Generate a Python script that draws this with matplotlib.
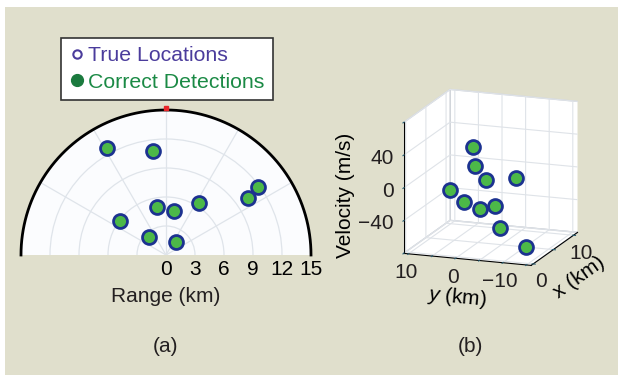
import numpy as np
import matplotlib
matplotlib.use('Agg')
import matplotlib.pyplot as plt
from matplotlib.lines import Line2D
from matplotlib.patches import Rectangle

plt.rcParams['font.family'] = ['Liberation Sans', 'DejaVu Sans']
plt.rcParams['font.size'] = 15
plt.rcParams['mathtext.fontset'] = 'custom'
plt.rcParams['mathtext.it'] = 'Liberation Sans:italic'
plt.rcParams['mathtext.rm'] = 'Liberation Sans'

# (a) detections: azimuth (deg) and range (km)
azimute = [119, 97, 36.5, 35, 57.5, 100.5, 80, 143.5, 133.5, 52]
alcance = [12.6, 10.8, 11.8, 10.3, 6.4, 5.0, 4.6, 5.9, 2.55, 1.7]
range_ticks = [0, 3, 6, 9, 12, 15]

# (b) targets: x (km), y (km), velocity (m/s)
x_km = [11.0, 4.9, 1.3, 5.9, 3.5, 1.9, 4.5, 10.7, 5.4, 4.0]
y_km = [6.1, 0.5, -5.0, -7.4, 4.7, 0.3, -0.8, 1.2, -4.3, -11.0]
vel = [12, 13, 12, 0, -13, -20, -37, -56, -61, -76]
vel_ticks = [-80, -40, 0, 40, 80]
vel_labels = ['', '\u221240', '0', '40', '']
y_ticks = [-15, -10, -5, 0, 5, 10]
y_labels = ['', '\u221210', '', '0', '', '10']
x_ticks = [0, 5, 10]
x_labels = ['0', '', '10']

fundo = '#e0dfcc'
verde = '#4cb848'
borda = '#1c3290'
texto = '#231f20'
eixo_cor = '#2b5f73'

fig = plt.figure(figsize=(6.18, 3.75), dpi=100, facecolor='white')
fig.patches.append(Rectangle((5/618, 0), 1, 368/375, transform=fig.transFigure,
                             facecolor=fundo, edgecolor='none', zorder=-1))

#Grafico a (polar):
ax = fig.add_axes([21/618, 1-327.5/375, 290/618, 290/375], projection='polar')
ax.set_thetamin(0)
ax.set_thetamax(180)
ax.set_rlim(0, 15)
ax.set_facecolor('#fbfcfe')
ax.patch.set_edgecolor('none')
ax.patch.set_linewidth(0)
ax.set_thetagrids(range(30, 151, 30), labels=[])
ax.set_rticks(range_ticks)
ax.set_yticklabels([str(t) for t in range_ticks], color=texto)
ax.tick_params(axis='both', length=0)
ax.grid(color='#dfe4ea', linewidth=0.9)
for s in ['polar', 'start', 'end', 'inner']:
    ax.spines[s].set_color('none')
    ax.spines[s].set_linewidth(0)
# outer rim drawn as a line so only the arc shows
arco = np.linspace(0, np.pi, 181)
ax.plot(arco, np.full_like(arco, 15), color='black', linewidth=2, clip_on=False)
ax.plot(np.radians(azimute), alcance, 'o', markersize=10, markerfacecolor=verde,
        markeredgecolor=borda, markeredgewidth=2, linestyle='none')
ax.plot(np.radians(90), 15.25, 's', color='#e8262a', markersize=2.5, clip_on=False)
fig.text(166/618, 1-297/375, 'Range (km)', ha='center', va='center', color=texto)
fig.text(166/618, 1-347/375, '(a)', ha='center', va='center', color=texto)

handles = [Line2D([], [], marker='o', linestyle='none', markersize=6,
                  markerfacecolor='white', markeredgecolor='#4b3c9c', markeredgewidth=1.5),
           Line2D([], [], marker='o', linestyle='none', markersize=8.5,
                  markerfacecolor='#1b7a3e', markeredgecolor='#1b7a3e')]
leg = fig.legend(handles, ['True Locations', 'Correct Detections'], loc='upper left',
                 bbox_to_anchor=(61/618, 1-38/375), frameon=True, fancybox=False,
                 edgecolor='#333333', framealpha=1, borderpad=0.38, labelspacing=0.35,
                 handlelength=0.7, handletextpad=0.2, borderaxespad=0, fontsize=15.3)
leg.get_frame().set_linewidth(1.2)
leg.get_texts()[0].set_color('#4b3c9c')
leg.get_texts()[1].set_color('#1b8a45')

#Grafico b (3D):
ax3 = fig.add_axes([0.6044, 0.2147, 0.369, 0.608], projection='3d', proj_type='ortho')
ax3.set_facecolor('none')
ax3.view_init(elev=15, azim=-160)
ax3.set_box_aspect((1, 1, 1))
ax3.scatter(x_km, y_km, vel, s=100, c=verde, edgecolors=borda, linewidths=2,
            depthshade=False, alpha=1)
ax3.set_xlim(-0.5, 11)
ax3.set_ylim(-16, 11)
ax3.set_zlim(-80, 80)
ax3.set_xticks(x_ticks)
ax3.set_xticklabels(x_labels)
ax3.set_yticks(y_ticks)
ax3.set_yticklabels(y_labels)
ax3.set_zticks(vel_ticks)
ax3.set_zticklabels(vel_labels, ha='right', va='center_baseline')
ax3.tick_params(axis='both', pad=-3, color=eixo_cor, labelcolor=texto)
ax3.tick_params(axis='z', pad=-3, color=eixo_cor, labelcolor=texto)
for eixo in [ax3.xaxis, ax3.yaxis, ax3.zaxis]:
    eixo.set_pane_color((1, 1, 1, 1))
    eixo.pane.set_edgecolor('#d0d4da')
    eixo._axinfo['grid']['color'] = '#dfe3e8'
    eixo._axinfo['grid']['linewidth'] = 0.8
    eixo._axinfo['axisline']['color'] = eixo_cor
    eixo._axinfo['tick']['color'] = eixo_cor
ax3.set_xlabel('x (km)', labelpad=-4)
ax3.set_ylabel('$\\it{y}$ (km)', labelpad=-1)
ax3.set_zlabel('Velocity (m/s)', labelpad=7.5)
fig.text(470/618, 1-347/375, '(b)', ha='center', va='center', color=texto)

fig.savefig('out.png', dpi=100, facecolor=fig.get_facecolor())
